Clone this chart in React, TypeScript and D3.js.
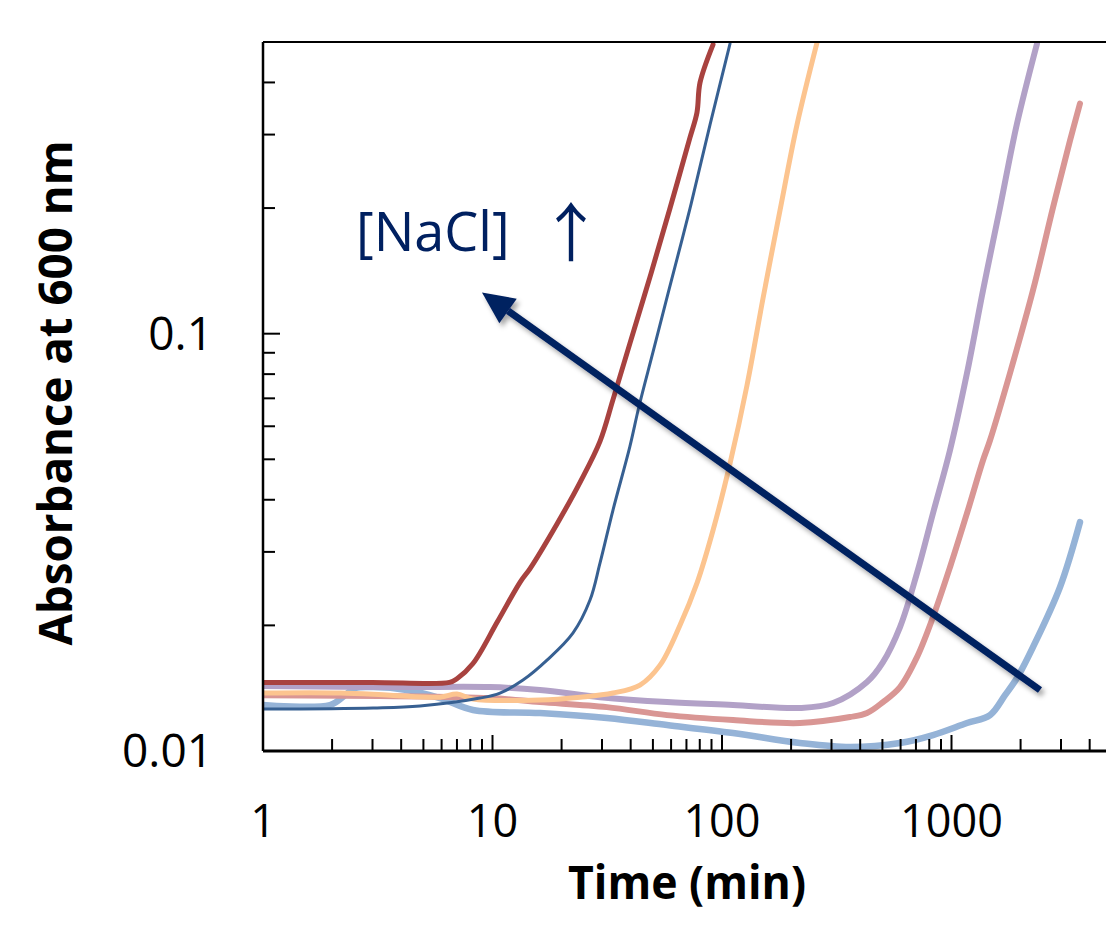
import React from "react";
import * as d3 from "d3";

// growth curves (time in min, absorbance at 600 nm)
const redTime = [1, 3, 6.5, 7.0, 8.22, 10.5, 13.2, 14.6, 19.1, 24.1, 29.4, 33.5, 39.7, 48.6, 59.3, 72.5, 77.8, 80.2, 91.4];
const redAbs = [0.0146, 0.0146, 0.0146, 0.0149, 0.0162, 0.0204, 0.0254, 0.0274, 0.035, 0.0441, 0.0552, 0.0695, 0.0948, 0.137, 0.1995, 0.295, 0.339, 0.3996, 0.493];

const blueTime = [1, 3.02, 4.83, 8.82, 10.78, 13.58, 17.28, 22.4, 26.6, 29.4, 33.5, 39.7, 43.5, 50.0, 58.2, 72.5, 88.7, 108.4];
const blueAbs = [0.0126, 0.01268, 0.01282, 0.01339, 0.01377, 0.01479, 0.01651, 0.01916, 0.023, 0.0282, 0.0378, 0.0537, 0.067, 0.0902, 0.1249, 0.1995, 0.317, 0.4955];

const orangeTime = [1, 2.17, 3.58, 5.9, 7.0, 8.22, 16.1, 24.1, 33.5, 43.9, 53.7, 65.6, 77.8, 91.4, 108.4, 128.5, 150.9, 178.9, 212.3, 259.4];
const orangeAbs = [0.01377, 0.01377, 0.01361, 0.01346, 0.01369, 0.01332, 0.01325, 0.01346, 0.01377, 0.01439, 0.01606, 0.02002, 0.02525, 0.03381, 0.04891, 0.07519, 0.1215, 0.1973, 0.317, 0.4982];

const purpleTime = [1, 3.95, 9.75, 16.1, 29.4, 57.6, 111.7, 218.8, 304.6, 428.4, 502.9, 596.6, 707.5, 830.6, 985, 1168, 1372, 1627, 1929, 2358];
const purpleAbs = [0.01431, 0.01423, 0.01423, 0.014, 0.01346, 0.0131, 0.01289, 0.01268, 0.01303, 0.01463, 0.01633, 0.01981, 0.02668, 0.03713, 0.05256, 0.0804, 0.127, 0.2006, 0.3187, 0.4955];

const salmonTime = [1, 9.75, 16.1, 31.5, 57.6, 111.7, 218.8, 361.2, 428.4, 502.9, 596.6, 707.5, 830.6, 985, 1168, 1372, 1472, 1798, 2265, 2769, 3284, 3630];
const salmonAbs = [0.01361, 0.01339, 0.0131, 0.01274, 0.01219, 0.01186, 0.01167, 0.01206, 0.01233, 0.0131, 0.01423, 0.01679, 0.02094, 0.02757, 0.03713, 0.04974, 0.05554, 0.0804, 0.127, 0.2006, 0.2902, 0.356];

const lightTime = [1, 1.96, 2.28, 2.52, 3.02, 4.24, 5.9, 8.22, 16.1, 31.5, 57.6, 111.7, 218.8, 361.2, 596.6, 830.6, 1168, 1472, 1711, 1929, 2265, 2970, 3630];
const lightAbs = [0.01289, 0.01289, 0.01361, 0.01415, 0.01423, 0.014, 0.01339, 0.01254, 0.01233, 0.012, 0.01154, 0.01104, 0.01045, 0.01022, 0.01045, 0.01092, 0.01167, 0.01219, 0.01361, 0.01496, 0.01774, 0.0247, 0.03535];

// ticks
const xMajor = [1, 10, 100, 1000];
const xMinor = [2, 3, 4, 5, 6, 7, 8, 9, 20, 30, 40, 50, 60, 70, 80, 90, 200, 300, 400, 500, 600, 700, 800, 900, 2000, 3000, 4000];
const yMajor = [0.01, 0.1];
const yMinor = [0.02, 0.03, 0.04, 0.05, 0.06, 0.07, 0.08, 0.09, 0.2, 0.3, 0.4];

// annotation arrow, in data units: tail -> head
const arrowFrom = [2430, 0.014];
const arrowTo = [9.0, 0.1256];

const series = [
  { t: lightTime, a: lightAbs, color: "#95b3d7", w: 6.5 },
  { t: salmonTime, a: salmonAbs, color: "#d99694", w: 6 },
  { t: purpleTime, a: purpleAbs, color: "#b2a1c7", w: 6 },
  { t: orangeTime, a: orangeAbs, color: "#fcc48f", w: 5 },
  { t: blueTime, a: blueAbs, color: "#376092", w: 3 },
  { t: redTime, a: redAbs, color: "#a8423f", w: 5 },
];

const W = 1106;
const H = 928;
const left = 263;
const top = 42;
const bottom = 751;
const decade = 229.5;

export default function App() {
  const x = d3.scaleLog().domain([1, 5000]).range([left, left + decade * Math.log10(5000)]);
  const y = d3.scaleLog().domain([0.01, 0.5]).range([bottom, top]);

  const line = d3
    .line<[number, number]>()
    .x((d) => x(d[0]))
    .y((d) => y(d[1]))
    .curve(d3.curveCatmullRom.alpha(0.5));

  const font = "'Open Sans', sans-serif";

  // arrow geometry in pixels
  const x1 = x(arrowFrom[0]);
  const y1 = y(arrowFrom[1]);
  const x2 = x(arrowTo[0]);
  const y2 = y(arrowTo[1]);
  const ang = Math.atan2(y2 - y1, x2 - x1);
  const headLen = 32;
  const headW = 15;
  const bx = x2 - headLen * Math.cos(ang);
  const by = y2 - headLen * Math.sin(ang);
  const px = -Math.sin(ang);
  const py = Math.cos(ang);
  const head = `M${x2},${y2}L${bx + headW * px},${by + headW * py}L${bx - headW * px},${by - headW * py}Z`;

  return (
    <svg width={W} height={H} style={{ position: "absolute", left: 0, top: 0, background: "#fff" }}>
      <defs>
        <clipPath id="plot">
          <rect x={left} y={top} width={W - left} height={bottom - top} />
        </clipPath>
        <filter id="shadow" x="-10%" y="-10%" width="120%" height="130%">
          <feDropShadow dx="3" dy="4" stdDeviation="2.5" floodColor="#000" floodOpacity="0.35" />
        </filter>
      </defs>

      <g clipPath="url(#plot)">
        {series.map((s, i) => (
          <path
            key={i}
            d={line(s.t.map((t, j) => [t, s.a[j]] as [number, number])) || ""}
            fill="none"
            stroke={s.color}
            strokeWidth={s.w}
            strokeLinecap="round"
            strokeLinejoin="round"
          />
        ))}
      </g>

      {/* frame */}
      <line x1={left} x2={W} y1={top} y2={top} stroke="#000" strokeWidth={2} />
      <line x1={left} x2={left} y1={top} y2={bottom} stroke="#000" strokeWidth={2.5} />
      <line x1={left} x2={W} y1={bottom} y2={bottom} stroke="#000" strokeWidth={3} />

      {/* x ticks (inward) */}
      {xMinor.map((v) => (
        <line key={"xm" + v} x1={x(v)} x2={x(v)} y1={bottom} y2={bottom - 12} stroke="#000" strokeWidth={2} />
      ))}
      {xMajor.map((v) => (
        <line key={"xM" + v} x1={x(v)} x2={x(v)} y1={bottom} y2={bottom - 16} stroke="#000" strokeWidth={2} />
      ))}
      {xMajor.map((v) => (
        <text key={"xl" + v} x={x(v)} y={837} textAnchor="middle" fontFamily={font} fontSize={45} fill="#000">
          {v}
        </text>
      ))}

      {/* y ticks (inward) */}
      {yMinor.map((v) => (
        <line key={"ym" + v} x1={left} x2={left + 12} y1={y(v)} y2={y(v)} stroke="#000" strokeWidth={2} />
      ))}
      {yMajor.map((v) => (
        <line key={"yM" + v} x1={left} x2={left + 17} y1={y(v)} y2={y(v)} stroke="#000" strokeWidth={2} />
      ))}
      {yMajor.map((v) => (
        <text key={"yl" + v} x={213} y={y(v) + 16} textAnchor="end" fontFamily={font} fontSize={46} fill="#000">
          {v}
        </text>
      ))}

      {/* axis titles */}
      <text
        transform="translate(72,393) rotate(-90)"
        textAnchor="middle"
        fontFamily={font}
        fontWeight="bold"
        fontSize={47}
        textLength={505}
        lengthAdjust="spacingAndGlyphs"
        fill="#000"
      >
        Absorbance at 600 nm
      </text>
      <text
        x={687}
        y={899}
        textAnchor="middle"
        fontFamily={font}
        fontWeight="bold"
        fontSize={46}
        textLength={238}
        lengthAdjust="spacingAndGlyphs"
        fill="#000"
      >
        Time (min)
      </text>

      {/* annotation */}
      <g filter="url(#shadow)">
        <line x1={x1} y1={y1} x2={bx} y2={by} stroke="#002060" strokeWidth={7} />
        <path d={head} fill="#002060" />
      </g>
      <text x={356} y={251} fontFamily={font} fontSize={54} fill="#002060">
        [NaCl]
      </text>
      <text x={571} y={256} textAnchor="middle" fontFamily="'Noto Sans CJK SC', 'DejaVu Sans', sans-serif" fontSize={64} fill="#002060">
        ↑
      </text>
    </svg>
  );
}
